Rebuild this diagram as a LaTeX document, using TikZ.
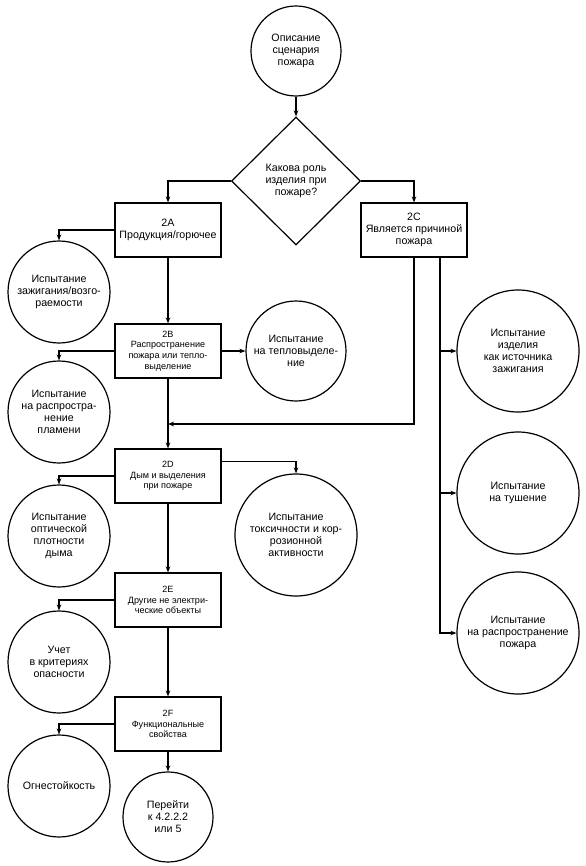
\documentclass[tikz,border=0pt]{standalone}
\usepackage{fontspec}
\setmainfont{Liberation Sans}
\usetikzlibrary{arrows.meta}
\usetikzlibrary{shapes.geometric}
\tikzset{
	krug/.style={draw, circle, line width=0.9pt, inner sep=0pt, align=center, font=\fontsize{8}{9}\selectfont},
	blok/.style={draw, rectangle, line width=0.9pt, minimum width=79.5pt, minimum height=40.5pt, inner sep=1pt, align=center, font=\fontsize{6.8}{8}\selectfont},
	strel/.style={line width=0.9pt, -{Stealth[length=4.5pt, width=3.5pt]}},
	liniya/.style={line width=0.9pt}
}

\begin{document}
\begin{tikzpicture}[x=0.75pt, y=-0.75pt]
			\useasboundingbox (0,0) rectangle (585,866);

			\node[krug, minimum size=67.5pt] (opis) at (296,51) {Описание\\сценария\\пожара};

			\node[draw, diamond, line width=0.9pt, inner sep=0pt, minimum width=96.75pt, minimum height=96pt, align=center, font=\fontsize{8}{9}\selectfont] (rol) at (296,181) {Какова роль\\изделия при\\пожаре?};

			\node[blok, font=\fontsize{8}{9.2}\selectfont] (a2) at (168,230) {2A\\Продукция/горючее};
			\node[blok, font=\fontsize{8}{9}\selectfont] (c2) at (414,230) {2C\\Является причиной\\пожара};
			\node[blok] (b2) at (168,351) {2B\\Распространение\\пожара или тепло-\\выделение};
			\node[blok] (d2) at (168,476) {2D\\Дым и выделения\\при пожаре};
			\node[blok] (e2) at (168,600) {2E\\Другие не электри-\\ческие объекты};
			\node[blok] (f2) at (168,724) {2F\\Функциональные\\свойства};

			\node[krug, minimum size=76.5pt] (zaj) at (59,292) {Испытание\\зажигания/возго-\\раемости};
			\node[krug, minimum size=76.5pt] (plam) at (59,412) {Испытание\\на распростра-\\нение\\пламени};
			\node[krug, minimum size=76.5pt] (dym) at (59,536) {Испытание\\оптической\\плотности\\дыма};
			\node[krug, minimum size=76.5pt] (uchet) at (59,662) {Учет\\в критериях\\опасности};
			\node[krug, minimum size=76.5pt] (ogn) at (59,786) {Огнестойкость};

			\node[krug, minimum size=75pt] (teplo) at (296,351) {Испытание\\на тепловыделе-\\ние};
			\node[krug, minimum size=91.5pt] (tox) at (296,535) {Испытание\\токсичности и кор-\\розионной\\активности};
			\node[krug, minimum size=67.5pt] (dal) at (168,817) {Перейти\\к 4.2.2.2\\или 5};

			\node[krug, minimum size=91.5pt] (ist) at (518,351) {Испытание\\изделия\\как источника\\зажигания};
			\node[krug, minimum size=91.5pt] (tush) at (518,493) {Испытание\\на тушение};
			\node[krug, minimum size=91.5pt] (rasp) at (518,633) {Испытание\\на распространение\\пожара};

			\coordinate (merge) at (168,424);
			\coordinate (shina) at ([xshift=19.5pt]c2.south);

			\draw[strel] (opis) -- (rol);
			\draw[strel] (rol.west) -| (a2.north);
			\draw[strel] (rol.east) -| (c2.north);

			\draw[strel] (a2.west) -| (zaj.north);
			\draw[strel] (a2) -- (b2);
			\draw[strel] (b2.west) -| (plam.north);
			\draw[strel] (b2) -- (teplo);
			\draw[strel] (b2) -- (d2);
			\draw[strel] (c2.south) |- (merge);

			\draw[strel] (d2.west) -| (dym.north);
			\draw[strel] ([yshift=-9.75pt]d2.north east) -| (tox.north);
			\draw[strel] (d2) -- (e2);
			\draw[strel] (e2.west) -| (uchet.north);
			\draw[strel] (e2) -- (f2);
			\draw[strel] (f2.west) -| (ogn.north);
			\draw[strel] (f2) -- (dal);

			\draw[strel] (shina) |- (rasp.west);
			\draw[strel] (shina |- ist.west) -- (ist.west);
			\draw[strel] (shina |- tush.west) -- (tush.west);

\end{tikzpicture}
\end{document}
